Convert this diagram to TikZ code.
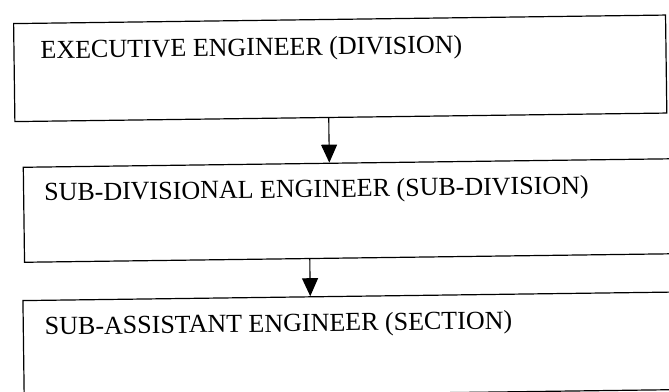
\documentclass[tikz,border=0pt]{standalone}
\usepackage{fontspec}
\setmainfont{Liberation Serif}
\usepackage{tikz}
\usetikzlibrary{arrows.meta,positioning,calc}
\tikzset{
  rankbox/.style={draw,line width=1.2pt,anchor=north west,inner sep=0pt},
  ranktxt/.style={anchor=base west,inner sep=0pt,font=\fontsize{26}{30}\selectfont},
  dar/.style={-{Triangle[length=18pt,width=16pt]},line width=1.1pt}
}

\begin{document}
\begin{tikzpicture}[x=1pt,y=1pt]
  \useasboundingbox (0,0) rectangle (669,-391);
  \clip (0,0) rectangle (669,-391);
  \begin{scope}[rotate around={0.75:(13,-23)},transform shape]
  % three ranks, top to bottom
  \node[rankbox,minimum width=652,minimum height=98] (exec) at (13,-23) {};
  \node[ranktxt] (exectxt) at ([shift={(27,-36)}]exec.north west)
    {EXECUTIVE ENGINEER (DIVISION)};

  \node[rankbox,minimum width=700,minimum height=95] (subdiv) at (20.8,-166.8) {};
  \node[ranktxt] (subdivtxt) at ([shift={(21,-34.5)}]subdiv.north west)
    {SUB-DIVISIONAL ENGINEER (SUB-DIVISION)};

  \node[rankbox,minimum width=700,minimum height=97.6] (section) at (18.7,-300.1) {};
  \node[ranktxt] (sectiontxt) at ([shift={(22,-35.2)}]section.north west)
    {SUB-ASSISTANT ENGINEER (SECTION)};

  \coordinate (a1) at (327.5,0);
  \coordinate (a2) at (306.7,0);
  \draw[dar] (exec.south -| a1) -- (subdiv.north -| a1);
  \draw[dar] (subdiv.south -| a2) -- (section.north -| a2);
  \end{scope}
\end{tikzpicture}
\end{document}
